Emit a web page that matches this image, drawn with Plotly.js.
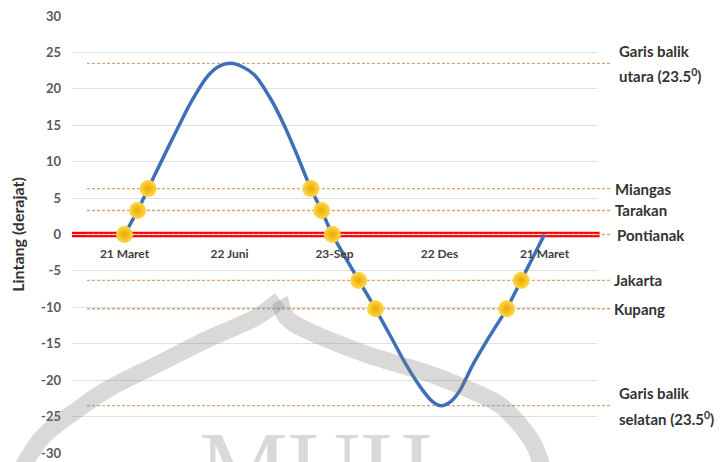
<!DOCTYPE html>
<html>
<head>
<meta charset="utf-8">
<script src="https://cdn.plot.ly/plotly-3.0.1.min.js"></script>
<style>html,body{margin:0;padding:0;background:#fff;}#chart{width:725px;height:462px;}</style>
</head>
<body>
<div id="chart"></div>
<script>
// ---- data ----
const categories = ['21 Maret', '22 Juni', '23-Sep', '22 Des', '21 Maret'];
const categoryPos = [0, 1, 2, 3, 4];

// sun's declination curve (x in category units, y in degrees)
const curveX = [0, 0.125, 0.225, 0.38, 0.51, 0.635, 0.79, 0.889, 1.01, 1.127, 1.238, 1.397, 1.524, 1.635, 1.775, 1.877, 1.98,
                2.231, 2.39, 2.524, 2.683, 2.841, 2.93, 3.016, 3.11, 3.19, 3.317, 3.476, 3.64, 3.778, 4.0];
const curveY = [0, 3.3, 6.3, 10.9, 14.7, 18.2, 21.7, 23.0, 23.5, 23.0, 21.9, 18.5, 14.9, 11.2, 6.3, 3.3, 0,
                -6.3, -10.2, -13.7, -17.9, -21.4, -22.9, -23.5, -22.9, -21.5, -17.9, -14.0, -10.2, -6.3, 0];

// zenith passage points (yellow dots)
const pointX = [0, 0.125, 0.225, 1.775, 1.877, 1.98, 2.231, 2.39, 3.64, 3.778];
const pointY = [0, 3.3, 6.3, 6.3, 3.3, 0, -6.3, -10.2, -10.2, -6.3];

// reference latitudes and their labels
const placeNames = ['Garis balik<br>utara (23.5<sup>0</sup>)', 'Miangas', 'Tarakan', 'Pontianak', 'Jakarta', 'Kupang', 'Garis balik<br>selatan (23.5<sup>0</sup>)'];
const placeLat = [23.5, 6.3, 3.3, 0, -6.3, -10.2, -23.5];
const equatorLat = 0;

const yTicks = [30, 25, 20, 15, 10, 5, 0, -5, -10, -15, -20, -25, -30];
const yTickText = ['30', '25', '20', '15', '10', '5', '0', '-5', '-10', '-15', '-20', '-25', '-30'];

// ---- layout helpers (positions / styles) ----
const M = {l: 72, r: 128, t: 16, b: 9};
const W = 725, H = 462;
const pw = W - M.l - M.r, ph = H - M.t - M.b;
const px = (x) => (x - M.l) / pw;
const py = (y) => (H - M.b - y) / ph;
const labelX = [617, 613, 613, 615, 612, 612, 617];

function smoothPath(pts) {
  const p = pts.map(([x, y]) => [px(x), py(y)]);
  let d = 'M' + p[0][0] + ',' + p[0][1];
  for (let i = 0; i < p.length - 1; i++) {
    const p0 = p[i - 1] || p[i], p1 = p[i], p2 = p[i + 1], p3 = p[i + 2] || p[i + 1];
    const c1 = [p1[0] + (p2[0] - p0[0]) / 6, p1[1] + (p2[1] - p0[1]) / 6];
    const c2 = [p2[0] - (p3[0] - p1[0]) / 6, p2[1] - (p3[1] - p1[1]) / 6];
    d += ' C' + c1.join(',') + ' ' + c2.join(',') + ' ' + p2.join(',');
  }
  return d;
}
const wmLeft = [[10, 490], [40, 440], [77, 410], [110, 388], [160, 363], [210, 338], [255, 318], [280, 300]];
const wmRight = [[280, 300], [293, 323], [360, 352], [427, 373], [470, 390], [500, 405], [520, 425], [535, 447], [548, 485]];

const shapes = [];
// equator (red)
shapes.push({type: 'line', xref: 'paper', yref: 'y', x0: 0, x1: 1.005, y0: equatorLat, y1: equatorLat,
  line: {color: '#ff0000', width: 5.5}, layer: 'below'});
// dashed latitude lines
placeLat.forEach(v => shapes.push({type: 'line', xref: 'paper', yref: 'y', x0: px(87), x1: px(612), y0: v, y1: v,
  line: {color: '#d9a57e', width: 1.4, dash: '3px,2px'}, layer: 'below'}));
// watermark dome
[wmLeft, wmRight].forEach(pts => shapes.push({type: 'path', xref: 'paper', yref: 'paper', path: smoothPath(pts),
  line: {color: 'rgba(128,128,128,0.30)', width: 17}, layer: 'above'}));

const annotations = [];
const labelFont = {family: 'Lato, sans-serif', size: 15, color: '#333333', weight: 'bold'};
placeNames.forEach((t, i) => {
  const lines = t.split('<br>');
  lines.forEach((ln, j) => {
    annotations.push({
      text: ln, xref: 'paper', yref: 'y', x: px(labelX[i]), y: placeLat[i], xanchor: 'left', yanchor: 'middle',
      yshift: lines.length > 1 ? (j === 0 ? 12.5 : -12.5) : 0,
      showarrow: false, align: 'left', font: labelFont
    });
  });
});
annotations.push({text: 'MUH', xref: 'paper', yref: 'paper', x: px(315), y: py(409), xanchor: 'center', yanchor: 'top',
  showarrow: false, font: {family: 'Liberation Serif, serif', size: 100, color: 'rgba(128,128,128,0.30)'}});

const traces = [
  {x: curveX, y: curveY, type: 'scatter', mode: 'lines', line: {color: '#3f6fb6', width: 3.5, shape: 'spline', smoothing: 0.8},
   hoverinfo: 'skip', showlegend: false},
  {x: pointX, y: pointY, type: 'scatter', mode: 'markers', cliponaxis: false,
   marker: {size: 17, color: '#ffd84a', gradient: {type: 'radial', color: '#e8a900'}, line: {width: 0}},
   showlegend: false}
];

const layout = {
  width: W, height: H, margin: M, paper_bgcolor: '#ffffff', plot_bgcolor: '#ffffff',
  showlegend: false,
  font: {family: 'Lato, sans-serif'},
  xaxis: {range: [-0.5, 4.5], tickvals: categoryPos, ticktext: categories, showgrid: false, zeroline: false,
    showline: false, ticks: '', anchor: 'free', position: 0.5, ticklabelstandoff: 10,
    tickfont: {family: 'Lato, sans-serif', size: 12, color: '#404040', weight: 'bold'}, fixedrange: true},
  yaxis: {range: [-30, 30], tickvals: yTicks, ticktext: yTickText, showgrid: true, gridcolor: '#e0e0e0', gridwidth: 1, zeroline: false,
    showline: false, ticks: '', ticklabelstandoff: 10,
    tickfont: {family: 'Lato, sans-serif', size: 13, color: '#595959', weight: 'bold'},
    title: {text: 'Lintang (derajat)', standoff: 12, font: {family: 'Lato, sans-serif', size: 16, color: '#333333', weight: 'bold'}}},
  shapes: shapes,
  annotations: annotations
};

Plotly.newPlot('chart', traces, layout, {displayModeBar: false, staticPlot: true});
</script>
</body>
</html>
